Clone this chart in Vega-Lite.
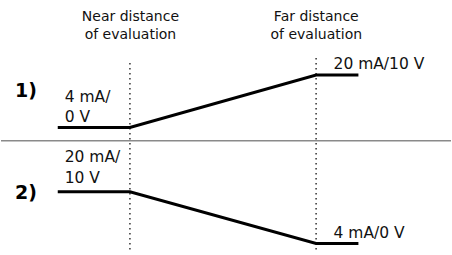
{
  "$schema": "https://vega.github.io/schema/vega-lite/v6.json",
  "width": 452,
  "height": 255,
  "autosize": {"type": "fit", "contains": "padding"},
  "padding": 0,
  "background": "white",
  "config": {"view": {"stroke": null}},
  "datasets": {
    "divider": [{"x": 0, "x2": 452, "y": 140.7}],
    "markers": [
      {"label": "Near distance of evaluation", "x": 129.5, "y": 63, "y2": 251},
      {"label": "Far distance of evaluation", "x": 316.5, "y": 58, "y2": 251}
    ],
    "curves": [
      {"case": "1", "order": 1, "x": 57, "y": 127.5},
      {"case": "1", "order": 2, "x": 129.5, "y": 127.5},
      {"case": "1", "order": 3, "x": 316.5, "y": 75},
      {"case": "1", "order": 4, "x": 359, "y": 75},
      {"case": "2", "order": 1, "x": 57, "y": 191.7},
      {"case": "2", "order": 2, "x": 129.5, "y": 191.7},
      {"case": "2", "order": 3, "x": 316.5, "y": 243.5},
      {"case": "2", "order": 4, "x": 359, "y": 243.5}
    ],
    "headings": [
      {"text": "Near distance", "x": 130, "y": 20.5},
      {"text": "of evaluation", "x": 130, "y": 38.5},
      {"text": "Far distance", "x": 316.7, "y": 20.5},
      {"text": "of evaluation", "x": 316.7, "y": 38.5}
    ],
    "labels": [
      {"text": "20 mA/10 V", "x": 334, "y": 69},
      {"text": "4 mA/", "x": 64, "y": 101.7},
      {"text": "0 V", "x": 64, "y": 121.7},
      {"text": "20 mA/", "x": 64, "y": 162.3},
      {"text": "10 V", "x": 64, "y": 183.3},
      {"text": "4 mA/0 V", "x": 334, "y": 237.5}
    ],
    "cases": [
      {"text": "1)", "x": 14, "y": 96.7},
      {"text": "2)", "x": 14, "y": 198.5}
    ]
  },
  "encoding": {},
  "layer": [
    {
      "data": {"name": "divider"},
      "mark": {"type": "rule", "color": "#8a8a8a", "strokeWidth": 1.5},
      "encoding": {
        "x": {"field": "x", "type": "quantitative", "scale": {"domain": [0, 452], "nice": false, "zero": false}, "axis": null},
        "x2": {"field": "x2"},
        "y": {"field": "y", "type": "quantitative", "scale": {"domain": [0, 255], "nice": false, "zero": false, "reverse": true}, "axis": null}
      }
    },
    {
      "data": {"name": "markers"},
      "mark": {"type": "rule", "color": "#222222", "strokeWidth": 1.4, "strokeDash": [1.4, 3.6]},
      "encoding": {
        "x": {"field": "x", "type": "quantitative", "axis": null},
        "y": {"field": "y", "type": "quantitative", "axis": null},
        "y2": {"field": "y2"}
      }
    },
    {
      "data": {"name": "curves"},
      "mark": {"type": "line", "color": "black", "strokeWidth": 3, "strokeCap": "butt", "strokeJoin": "miter"},
      "encoding": {
        "x": {"field": "x", "type": "quantitative", "axis": null},
        "y": {"field": "y", "type": "quantitative", "axis": null},
        "detail": {"field": "case", "type": "nominal"},
        "order": {"field": "order", "type": "quantitative"}
      }
    },
    {
      "data": {"name": "headings"},
      "mark": {"type": "text", "font": "DejaVu Sans", "fontSize": 14, "baseline": "alphabetic", "align": "center", "color": "#111111"},
      "encoding": {
        "x": {"field": "x", "type": "quantitative", "axis": null},
        "y": {"field": "y", "type": "quantitative", "axis": null},
        "text": {"field": "text", "type": "nominal"}
      }
    },
    {
      "data": {"name": "labels"},
      "mark": {"type": "text", "font": "DejaVu Sans", "fontSize": 15.5, "baseline": "alphabetic", "align": "left", "color": "#111111"},
      "encoding": {
        "x": {"field": "x", "type": "quantitative", "axis": null},
        "y": {"field": "y", "type": "quantitative", "axis": null},
        "text": {"field": "text", "type": "nominal"}
      }
    },
    {
      "data": {"name": "cases"},
      "mark": {"type": "text", "font": "DejaVu Sans", "fontSize": 19, "fontWeight": "bold", "baseline": "alphabetic", "align": "left", "color": "black"},
      "encoding": {
        "x": {"field": "x", "type": "quantitative", "axis": null},
        "y": {"field": "y", "type": "quantitative", "axis": null},
        "text": {"field": "text", "type": "nominal"}
      }
    }
  ]
}
